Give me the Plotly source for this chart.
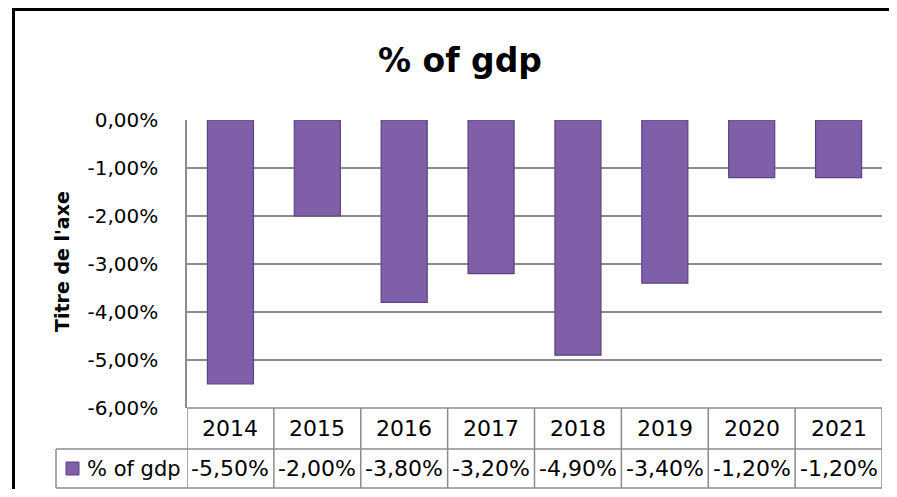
import plotly.graph_objects as go

# ---- data ----
years = ["2014", "2015", "2016", "2017", "2018", "2019", "2020", "2021"]
values = [-5.5, -2.0, -3.8, -3.2, -4.9, -3.4, -1.2, -1.2]   # % of GDP
series_name = "% of gdp"
title_text = "% of gdp"
axis_title = "Titre de l'axe"
y_ticks = [0, -1, -2, -3, -4, -5, -6]

def pct(v):
    return f"{v:.2f}%".replace(".", ",")

y_ticktext = [pct(v) for v in y_ticks]

# ---- layout geometry (pixels, relative to the figure; page body has 8px margin) ----
W, H = 889, 481
PL, PR, PT, PB = 179, 874, 112, 400     # plot area box
ROW1, ROW2 = 441, 480                   # table row bottoms
LEG_X0 = 48

def px(xp):
    return (xp - PL) / (PR - PL)

def py(yp):
    return (PB - yp) / (PB - PT)

FONT = "DejaVu Sans"
GRID = "#8C8C8C"
BAR = "#7F60A8"
BAR_EDGE = "#5B4282"

fig = go.Figure()
fig.add_trace(go.Bar(
    x=list(range(len(years))), y=values, name=series_name,
    width=0.53,
    marker=dict(color=BAR, line=dict(color=BAR_EDGE, width=1.2)),
    hovertemplate="%{customdata}: %{y:.2f}%<extra></extra>",
    customdata=years,
))

shapes = []
n = len(years)
for i in range(n + 1):
    shapes.append(dict(type="line", xref="x", yref="paper",
                       x0=i - 0.5, x1=i - 0.5, y0=0, y1=py(ROW2),
                       line=dict(color=GRID, width=1.5)))
shapes.append(dict(type="line", xref="x", yref="paper", x0=-0.5, x1=n - 0.5,
                   y0=0, y1=0, line=dict(color=GRID, width=1.5)))
for yy in (ROW1, ROW2):
    shapes.append(dict(type="line", xref="paper", yref="paper",
                       x0=px(LEG_X0), x1=1, y0=py(yy), y1=py(yy),
                       line=dict(color=GRID, width=1.5)))
shapes.append(dict(type="line", xref="paper", yref="paper",
                   x0=px(LEG_X0), x1=px(LEG_X0), y0=py(ROW1), y1=py(ROW2),
                   line=dict(color=GRID, width=1.5)))
mid2 = (ROW1 + ROW2) / 2
shapes.append(dict(type="rect", xref="paper", yref="paper",
                   x0=px(58), x1=px(71), y0=py(mid2 + 6.5), y1=py(mid2 - 6.5),
                   fillcolor=BAR, line=dict(color=BAR_EDGE, width=1)))
# outer chart frame: left and top edges
shapes.append(dict(type="line", xref="paper", yref="paper",
                   x0=px(5.5), x1=px(5.5), y0=py(H + 5), y1=py(0),
                   line=dict(color="black", width=3), layer="above"))
shapes.append(dict(type="line", xref="paper", yref="paper",
                   x0=px(4), x1=px(W + 5), y0=py(1.5), y1=py(1.5),
                   line=dict(color="black", width=3), layer="above"))

def ann(x, y, text, size, xref="paper", **kw):
    d = dict(x=x, y=y, xref=xref, yref="paper", text=text, showarrow=False,
             xanchor="center", yanchor="middle",
             font=dict(family=FONT, size=size, color="black"))
    d.update(kw)
    return d

annotations = []
for i, (yr, v) in enumerate(zip(years, values)):
    annotations.append(ann(i, py((PB + ROW1) / 2), yr, 22, xref="x"))
    annotations.append(ann(i, py(mid2), pct(v), 22, xref="x"))
annotations.append(ann(px(77), py(mid2), series_name, 21, xanchor="left"))
annotations.append(ann(px(452), py(52), f"<b>{title_text}</b>", 33))
annotations.append(ann(px(54), py(254), f"<b>{axis_title}</b>", 19, textangle=-90))

fig.update_layout(
    width=W, height=H, autosize=False,
    margin=dict(l=PL, r=W - PR, t=PT, b=H - PB, pad=0),
    paper_bgcolor="white", plot_bgcolor="white",
    showlegend=False,
    shapes=shapes, annotations=annotations,
    xaxis=dict(range=[-0.5, n - 0.5], showticklabels=False, showgrid=False,
               zeroline=False, showline=False, ticks=""),
    yaxis=dict(range=[-6, 0], tickvals=y_ticks, ticktext=y_ticktext,
               showgrid=True, gridcolor=GRID, gridwidth=1.5,
               zeroline=False, showline=True, linecolor=GRID, linewidth=1.5,
               ticks="", ticklabelstandoff=23,
               tickfont=dict(family=FONT, size=20, color="black")),
)

fig.write_html("out.html")
